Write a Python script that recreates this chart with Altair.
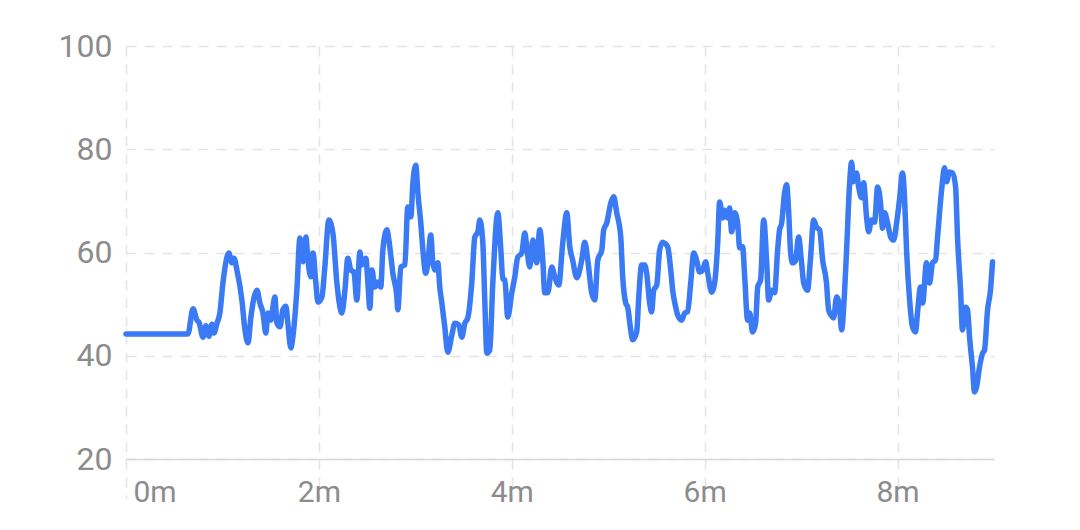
import altair as alt
import pandas as pd

# elapsed time in seconds
seconds = [
    0, 38.5, 41.7, 44.1, 45.4, 47.9, 49.7, 51.6, 53.5, 54.7,
    56.6, 58.4, 60.3, 62.8, 64.0, 65.9, 67.2, 69.0, 72.1, 74.0,
    75.9, 77.7, 79.6, 81.5, 83.3, 85.2, 87.0, 88.3, 90.2, 91.4,
    92.6, 93.9, 95.8, 97.6, 99.5, 100.7, 102.6, 103.8, 106.3, 108.2,
    110.1, 111.9, 113.2, 115.0, 116.3, 118.1, 119.4, 121.9, 123.7, 126.2,
    128.7, 131.2, 134.3, 136.2, 138.0, 139.9, 141.8, 143.6, 145.5, 146.7,
    149.2, 150.5, 151.7, 153.0, 154.8, 156.7, 158.5, 159.8, 162.3, 164.1,
    166.0, 168.5, 169.1, 171.0, 173.5, 175.3, 177.2, 178.5, 180.3, 181.6,
    183.4, 184.7, 186.5, 187.8, 189.6, 190.9, 192.1, 194.0, 195.2, 196.5,
    198.3, 200.2, 202.7, 204.6, 207.0, 208.9, 210.8, 212.6, 215.1, 217.0,
    218.9, 220.1, 222.0, 223.2, 224.5, 226.3, 228.2, 231.3, 233.2, 234.4,
    235.7, 237.5, 240.0, 241.9, 243.7, 246.2, 248.1, 249.3, 251.2, 253.1,
    254.3, 255.5, 257.4, 259.3, 260.5, 262.4, 264.9, 266.7, 269.2, 271.7,
    274.2, 276.1, 277.9, 280.4, 283.5, 285.4, 287.3, 289.7, 291.6, 293.5,
    296.0, 297.2, 299.1, 301.6, 303.4, 305.3, 307.8, 309.0, 310.9, 312.1,
    314.0, 315.2, 317.7, 319.0, 320.8, 322.7, 323.9, 325.8, 327.0, 328.3,
    330.2, 332.0, 333.9, 335.1, 337.0, 338.9, 340.1, 342.0, 343.2, 345.7,
    347.6, 349.4, 351.3, 353.2, 355.0, 356.9, 358.8, 360.6, 361.9, 364.4,
    366.2, 368.1, 369.3, 371.2, 372.4, 374.3, 375.5, 376.8, 378.7, 380.5,
    381.8, 383.6, 384.9, 386.7, 388.0, 389.8, 391.7, 393.0, 394.8, 396.7,
    398.6, 399.8, 401.7, 403.5, 405.4, 406.6, 407.9, 409.7, 411.0, 412.2,
    413.5, 414.7, 416.6, 418.4, 420.3, 421.6, 424.0, 425.9, 427.8, 429.6,
    431.5, 433.4, 435.8, 437.1, 439.0, 440.2, 442.1, 443.9, 445.2, 447.0,
    448.3, 450.2, 451.4, 452.6, 454.5, 455.8, 457.6, 458.9, 460.7, 462.0,
    463.8, 465.7, 467.6, 469.4, 470.7, 471.9, 473.8, 475.7, 477.5, 479.4,
    481.2, 483.1, 484.4, 485.6, 487.5, 489.3, 491.2, 492.4, 494.3, 495.6,
    498.0, 499.9, 501.8, 503.6, 504.9, 507.4, 509.2, 510.5, 512.3, 514.2,
    516.1, 517.3, 519.2, 520.4, 522.3, 523.5, 524.8, 526.6, 527.9, 529.1,
    531.0, 532.9, 534.1, 536.0, 537.8, 539.1,
]

values = [
    44.2, 44.2, 49.1, 46.9, 46.5, 43.6, 45.8, 43.8, 46.1, 44.4,
    46.3, 48.3, 54.1, 59.1, 59.9, 58.0, 58.9, 56.6, 50.8, 45.0,
    42.5, 47.5, 51.2, 52.7, 50.2, 48.3, 44.4, 48.3, 46.9, 49.4,
    51.4, 46.3, 45.6, 48.9, 49.6, 46.3, 41.5, 43.6, 52.7, 62.8,
    58.2, 63.0, 58.5, 55.3, 59.9, 54.1, 50.4, 51.4, 57.2, 66.3,
    63.8, 54.1, 48.3, 52.7, 58.9, 56.6, 56.2, 50.8, 60.1, 57.6,
    58.9, 54.1, 49.2, 56.6, 53.3, 54.3, 53.3, 60.5, 64.4, 61.1,
    56.0, 51.4, 48.9, 57.2, 57.6, 68.8, 66.9, 73.5, 76.9, 71.5,
    65.7, 60.5, 56.0, 58.0, 63.4, 58.0, 56.6, 58.0, 53.3, 50.2,
    45.6, 40.7, 44.0, 46.3, 46.0, 43.6, 46.3, 47.3, 54.1, 63.0,
    64.0, 66.3, 61.8, 50.8, 40.5, 41.1, 54.1, 67.7, 60.5, 54.9,
    54.7, 47.5, 52.2, 55.3, 59.1, 59.9, 63.8, 61.1, 57.2, 62.4,
    60.5, 58.0, 64.4, 58.5, 52.2, 52.2, 57.2, 55.3, 53.7, 61.8,
    67.7, 61.1, 58.5, 55.1, 58.5, 62.0, 58.5, 52.2, 50.8, 58.5,
    60.5, 64.4, 65.7, 69.6, 70.8, 67.7, 63.0, 55.3, 50.2, 49.4,
    45.0, 43.1, 44.6, 51.4, 57.6, 57.6, 56.0, 50.2, 48.5, 52.7,
    53.7, 60.5, 62.0, 61.8, 61.1, 56.6, 52.7, 49.4, 47.9, 46.9,
    48.3, 48.5, 54.1, 59.9, 58.5, 56.2, 56.6, 58.2, 56.0, 52.3,
    54.1, 61.8, 69.8, 66.7, 68.2, 66.7, 68.6, 64.0, 67.7, 65.7,
    60.9, 61.1, 55.3, 46.9, 48.3, 44.6, 46.3, 53.3, 54.7, 66.3,
    58.0, 50.8, 52.7, 52.2, 60.5, 64.4, 65.7, 71.5, 73.1, 68.2,
    59.9, 58.0, 58.5, 63.0, 58.0, 54.1, 52.7, 59.1, 66.3, 64.9,
    64.4, 58.5, 54.1, 48.9, 47.7, 47.3, 51.4, 49.4, 45.0, 52.2,
    60.5, 73.5, 77.5, 73.7, 75.4, 72.7, 70.6, 73.5, 66.9, 64.0,
    66.3, 65.9, 72.7, 69.6, 64.7, 67.7, 65.7, 63.0, 62.4, 65.7,
    70.2, 75.4, 70.2, 60.5, 50.8, 45.6, 44.6, 48.3, 53.3, 50.2,
    58.0, 54.1, 58.0, 58.5, 63.0, 72.1, 76.4, 73.7, 75.6, 75.4,
    72.7, 63.0, 52.7, 45.0, 49.4, 48.9, 43.6, 37.8, 33.0, 33.9,
    37.8, 40.5, 41.1, 48.9, 52.7, 58.2,
]

x_tick_values = [0, 120, 240, 360, 480]
y_tick_values = [20, 40, 60, 80, 100]

assert len(seconds) == len(values)
df = pd.DataFrame({"t": seconds, "v": values})

grid_color = "#e4e4e4"
label_color = "#8c8c8c"

chart = (
    alt.Chart(df)
    .mark_line(color="#3a7af5", strokeWidth=5.5, interpolate="monotone",
               strokeJoin="round", strokeCap="round")
    .encode(
        x=alt.X(
            "t:Q",
            scale=alt.Scale(domain=[0, 540], nice=False, zero=False),
            axis=alt.Axis(
                values=x_tick_values,
                labelExpr="(datum.value / 60) + 'm'",
                title=None,
                grid=True, gridDash=[10, 8], gridColor=grid_color, gridWidth=1.5,
                domainColor="#d8d8d8", domainWidth=1.5,
                ticks=True, tickSize=40, tickDash=[10, 8], tickColor=grid_color, tickWidth=1.5,
                labelPadding=-22, labelFontSize=30, labelColor=label_color,
                labelFont="Roboto", labelFlush=True, labelFlushOffset=-7,
            ),
        ),
        y=alt.Y(
            "v:Q",
            scale=alt.Scale(domain=[20, 100], nice=False, zero=False),
            axis=alt.Axis(
                values=y_tick_values,
                title=None,
                grid=True, gridDash=[10, 8], gridColor=grid_color, gridWidth=1.5,
                domain=False, ticks=False,
                labelPadding=14, labelFontSize=32, labelColor=label_color,
                labelFont="Roboto",
            ),
        ),
    )
    .properties(
        width=868, height=413,
        padding={"left": 118, "top": 38, "right": 20, "bottom": 60},
        autosize=alt.AutoSizeParams(type="none"),
    )
    .configure_view(stroke=None)
)

chart.save("out.html", embed_options={"renderer": "svg", "actions": False})
